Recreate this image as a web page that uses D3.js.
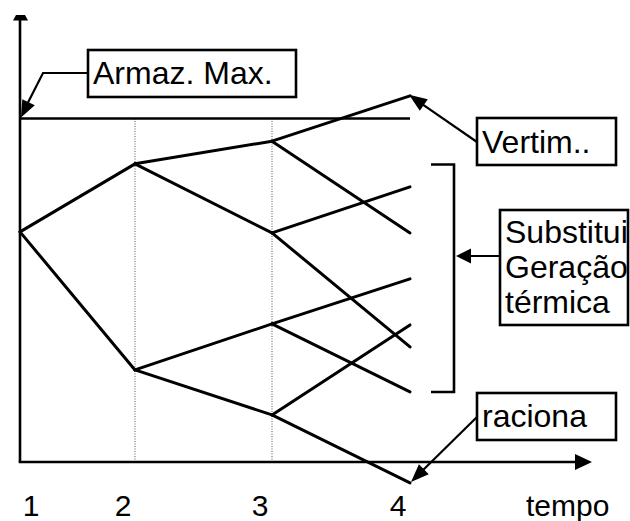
<!DOCTYPE html>
<html>
<head>
<meta charset="utf-8">
<script src="https://cdn.jsdelivr.net/npm/d3@7"></script>
<style>
  html, body { margin: 0; padding: 0; background: #fff; }
  svg { display: block; }
  text { font-family: "Liberation Sans", Arial, sans-serif; fill: #000; }
</style>
</head>
<body>
<div id="chart"></div>
<script>
// ---- data ----
const times = [1, 2, 3, 4];
const timeLabels = ["1", "2", "3", "4"];
const axisTitle = "tempo";
const maxStorage = 100;           // "Armaz. Max." level
const stage1 = [67.0];
const stage2 = [86.8, 26.8];
const stage2Parent = [0, 0];
const stage3 = [93.4, 66.7, 40.2, 13.7];
const stage3Parent = [0, 0, 1, 1];
const stage4 = [106.6, 66.7, 80.1, 33.5, 53.3, 20.4, 39.9, -6.1];
const stage4Parent = [0, 0, 1, 1, 2, 2, 3, 3];
const labelArmaz = "Armaz. Max.";
const labelVertim = "Vertim..";
const labelSubst = ["Substitui", "Geração", "térmica"];
const labelRaciona = "raciona";

// ---- layout ----
const W = 630, H = 521;
const svg = d3.select("#chart").append("svg").attr("width", W).attr("height", H);

const x = d3.scaleLinear().domain(times).range([20, 135, 272, 410]);
const y = d3.scaleLinear().domain([0, maxStorage]).range([462, 118.5]);

function arrowHead(tip, from, len, hw) {
  const dx = tip[0] - from[0], dy = tip[1] - from[1];
  const d = Math.hypot(dx, dy), ux = dx / d, uy = dy / d;
  const bx = tip[0] - ux * len, by = tip[1] - uy * len;
  svg.append("polygon")
    .attr("points", [[tip[0], tip[1]], [bx - uy * hw, by + ux * hw], [bx + uy * hw, by - ux * hw]].map(p => p.join(",")).join(" "))
    .attr("fill", "#000");
}

// dotted verticals at stage 2 and 3
svg.selectAll("line.grid").data([2, 3]).enter().append("line")
  .attr("x1", d => x(d)).attr("x2", d => x(d))
  .attr("y1", y(maxStorage)).attr("y2", y(0))
  .attr("stroke", "#555").attr("stroke-width", 1).attr("stroke-dasharray", "1,1.5");

// max storage line
svg.append("line")
  .attr("x1", x(1)).attr("x2", x(4)).attr("y1", y(maxStorage)).attr("y2", y(maxStorage))
  .attr("stroke", "#000").attr("stroke-width", 2.6);

// axes
svg.append("line").attr("x1", x(1)).attr("x2", x(1)).attr("y1", 17).attr("y2", y(0))
  .attr("stroke", "#000").attr("stroke-width", 2.6);
svg.append("polygon").attr("points", "13,20.5 28,20.5 25,15 16,15").attr("fill", "#000");
svg.append("line").attr("x1", x(1) - 1.3).attr("x2", 580).attr("y1", y(0)).attr("y2", y(0))
  .attr("stroke", "#000").attr("stroke-width", 2.6);
arrowHead([592, y(0)], [570, y(0)], 17, 8);

// tree edges
const edges = [];
stage2.forEach((v, i) => edges.push([[1, stage1[stage2Parent[i]]], [2, v]]));
stage3.forEach((v, i) => edges.push([[2, stage2[stage3Parent[i]]], [3, v]]));
stage4.forEach((v, i) => edges.push([[3, stage3[stage4Parent[i]]], [4, v]]));
svg.selectAll("line.edge").data(edges).enter().append("line")
  .attr("x1", d => x(d[0][0])).attr("y1", d => y(d[0][1]))
  .attr("x2", d => x(d[1][0])).attr("y2", d => y(d[1][1]))
  .attr("stroke", "#000").attr("stroke-width", 3).attr("stroke-linecap", "round");

// boxes
function box(x0, y0, x1, y1) {
  svg.append("rect").attr("x", x0).attr("y", y0).attr("width", x1 - x0).attr("height", y1 - y0)
    .attr("fill", "#fff").attr("stroke", "#000").attr("stroke-width", 2.6);
}
const fs = 32;

// Armaz. Max.
svg.append("polyline").attr("points", `88,73 43,73 ${x(1) + 8},${y(maxStorage) - 16}`)
  .attr("fill", "none").attr("stroke", "#000").attr("stroke-width", 2.2);
arrowHead([x(1) + 1, y(maxStorage) - 1], [43, 73], 17, 7);
box(88, 50, 296, 97);
svg.append("text").attr("x", 93).attr("y", 84).attr("font-size", fs).text(labelArmaz);

// Vertim..
svg.append("line").attr("x1", 477).attr("y1", 142).attr("x2", x(4) + 6).attr("y2", y(stage4[0]) + 4)
  .attr("stroke", "#000").attr("stroke-width", 2.2);
arrowHead([x(4) - 1, y(stage4[0]) - 1], [477, 142], 18, 7);
box(477, 118, 616, 165);
svg.append("text").attr("x", 482).attr("y", 153).attr("font-size", fs).text(labelVertim);

// bracket for thermal substitution
const bTop = 164.5, bBot = 392;
svg.append("polyline").attr("points", `431,${bTop} 454,${bTop} 454,${bBot} 431,${bBot}`)
  .attr("fill", "none").attr("stroke", "#000").attr("stroke-width", 2.6);
svg.append("line").attr("x1", 500).attr("x2", 465).attr("y1", 256).attr("y2", 256)
  .attr("stroke", "#000").attr("stroke-width", 2.2);
arrowHead([456, 256], [500, 256], 15, 7.5);
box(500, 210, 628, 325);
svg.append("text").attr("font-size", fs).selectAll("tspan").data(labelSubst).enter().append("tspan")
  .attr("x", 505).attr("y", (d, i) => 243 + i * 35).text(d => d);

// raciona
svg.append("line").attr("x1", 477).attr("y1", 417).attr("x2", x(4) + 8).attr("y2", y(stage4[7]) - 8)
  .attr("stroke", "#000").attr("stroke-width", 2.2);
arrowHead([x(4) + 1, y(stage4[7]) - 1], [477, 417], 18, 7);
box(477, 393, 616, 440);
svg.append("text").attr("x", 482).attr("y", 427).attr("font-size", fs).text(labelRaciona);

// time labels
svg.selectAll("text.tick").data(times).enter().append("text")
  .attr("x", (d, i) => i === 0 ? x(d) + 11 : x(d) - 12)
  .attr("y", 516).attr("text-anchor", "middle").attr("font-size", 30)
  .text((d, i) => timeLabels[i]);
svg.append("text").attr("x", 526).attr("y", 516).attr("font-size", 30).text(axisTitle);
</script>
</body>
</html>
